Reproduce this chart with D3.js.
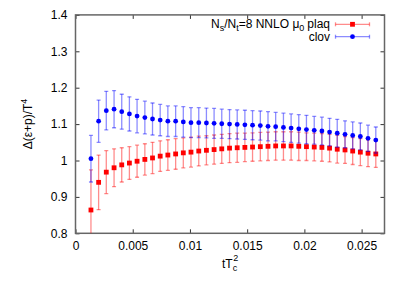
<!DOCTYPE html>
<html>
<head>
<meta charset="utf-8">
<script src="https://cdn.jsdelivr.net/npm/d3@7"></script>
<style>
  body { margin: 0; background: #fff; }
  text { font-family: "Liberation Sans", Arial, sans-serif; font-size: 12px; fill: #000; }
</style>
</head>
<body>
<div id="chart"></div>
<script>
let width = 409,
    height = 286;

// tT_c^2 values (one per flow time)
let tValues = [0.00135, 0.00202, 0.00269, 0.00337, 0.00404, 0.00471, 0.00538, 0.00606,
  0.00673, 0.0074, 0.00807, 0.00875, 0.00942, 0.01009, 0.01077, 0.01144,
  0.01211, 0.01278, 0.01346, 0.01413, 0.0148, 0.01547, 0.01615, 0.01682,
  0.01749, 0.01817, 0.01884, 0.01951, 0.02018, 0.02086, 0.02153, 0.0222,
  0.02287, 0.02355, 0.02422, 0.02489, 0.02556, 0.02624];

let plaqValues = [0.864, 0.940, 0.968, 0.980, 0.988, 0.993, 0.998, 1.003,
  1.007, 1.012, 1.015, 1.018, 1.021, 1.023, 1.026, 1.028,
  1.030, 1.032, 1.034, 1.035, 1.036, 1.037, 1.038, 1.039,
  1.040, 1.040, 1.040, 1.039, 1.038, 1.037, 1.036, 1.034,
  1.031, 1.029, 1.026, 1.023, 1.020, 1.018];
let plaqErrors = [0.110, 0.075, 0.059, 0.052, 0.047, 0.045, 0.044, 0.043,
  0.043, 0.042, 0.042, 0.042, 0.041, 0.041, 0.041, 0.040,
  0.040, 0.040, 0.040, 0.040, 0.039, 0.039, 0.039, 0.039,
  0.039, 0.039, 0.039, 0.039, 0.038, 0.038, 0.038, 0.038,
  0.038, 0.037, 0.037, 0.037, 0.037, 0.037];

let clovValues = [1.005, 1.108, 1.137, 1.141, 1.134, 1.128, 1.122, 1.118,
  1.114, 1.111, 1.108, 1.108, 1.106, 1.104, 1.104, 1.103,
  1.102, 1.101, 1.100, 1.099, 1.098, 1.097, 1.096, 1.094,
  1.093, 1.091, 1.089, 1.087, 1.085, 1.083, 1.081, 1.078,
  1.075, 1.072, 1.069, 1.066, 1.061, 1.056];
let clovErrors = [0.064, 0.058, 0.053, 0.051, 0.048, 0.047, 0.046, 0.045,
  0.044, 0.043, 0.042, 0.042, 0.042, 0.041, 0.041, 0.041,
  0.041, 0.040, 0.040, 0.040, 0.040, 0.040, 0.040, 0.040,
  0.039, 0.039, 0.039, 0.039, 0.039, 0.038, 0.038, 0.038,
  0.038, 0.037, 0.037, 0.037, 0.036, 0.036];

let xTicks = [0, 0.005, 0.01, 0.015, 0.02, 0.025];
let yTicks = [0.8, 0.9, 1.0, 1.1, 1.2, 1.3, 1.4];

let x = d3.scaleLinear().domain([0, 0.027]).range([75.5, 384.5]);
let y = d3.scaleLinear().domain([0.8, 1.4]).range([233.3, 14.9]);

let svg = d3.select("#chart").append("svg")
    .attr("width", width)
    .attr("height", height);

svg.append("clipPath").attr("id", "clip")
  .append("rect")
    .attr("x", x.range()[0]).attr("y", y.range()[1])
    .attr("width", x.range()[1] - x.range()[0])
    .attr("height", y.range()[0] - y.range()[1]);

// axes: ticks inward, mirrored on top / right
let tickLen = 4;
svg.append("g")
    .attr("transform", "translate(0," + y.range()[0] + ")")
    .call(d3.axisBottom(x).tickValues(xTicks).tickSizeInner(-tickLen).tickSizeOuter(0)
      .tickPadding(8).tickFormat(d => d3.format("")(d)))
    .call(g => g.select(".domain").remove());
svg.append("g")
    .attr("transform", "translate(0," + y.range()[1] + ")")
    .call(d3.axisTop(x).tickValues(xTicks).tickSizeInner(-tickLen).tickSizeOuter(0).tickFormat(""))
    .call(g => g.select(".domain").remove());
svg.append("g")
    .attr("transform", "translate(" + x.range()[0] + ",0)")
    .call(d3.axisLeft(y).tickValues(yTicks).tickSizeInner(-tickLen).tickSizeOuter(0)
      .tickPadding(8).tickFormat(d => d3.format("")(+d.toFixed(1))))
    .call(g => g.select(".domain").remove());
svg.append("g")
    .attr("transform", "translate(" + x.range()[1] + ",0)")
    .call(d3.axisRight(y).tickValues(yTicks).tickSizeInner(-tickLen).tickSizeOuter(0).tickFormat(""))
    .call(g => g.select(".domain").remove());

svg.selectAll(".tick line").attr("stroke", "#333");
svg.selectAll(".tick text").style("font-size", "12px").style("font-family", "'Liberation Sans', Arial, sans-serif");

svg.append("rect")
    .attr("x", x.range()[0]).attr("y", y.range()[1])
    .attr("width", x.range()[1] - x.range()[0])
    .attr("height", y.range()[0] - y.range()[1])
    .attr("fill", "none")
    .attr("stroke", "#666")
    .attr("stroke-width", 1.5);

let capW = 2;

function drawSeries(vals, errs, color, shape) {
  let data = tValues.map((t, i) => ({t: t, v: vals[i], e: errs[i]}));
  let g = svg.append("g").attr("clip-path", "url(#clip)");
  let bars = g.append("g")
      .attr("stroke", color)
      .attr("stroke-opacity", 0.45)
      .attr("stroke-width", 1.3);
  bars.selectAll(".eb").data(data).enter().append("line")
      .attr("x1", d => x(d.t)).attr("x2", d => x(d.t))
      .attr("y1", d => y(d.v - d.e)).attr("y2", d => y(d.v + d.e));
  bars.selectAll(".capt").data(data).enter().append("line")
      .attr("x1", d => x(d.t) - capW).attr("x2", d => x(d.t) + capW)
      .attr("y1", d => y(d.v + d.e)).attr("y2", d => y(d.v + d.e));
  bars.selectAll(".capb").data(data).enter().append("line")
      .attr("x1", d => x(d.t) - capW).attr("x2", d => x(d.t) + capW)
      .attr("y1", d => y(d.v - d.e)).attr("y2", d => y(d.v - d.e));
  if (shape == "square") {
    g.selectAll(".pt").data(data).enter().append("rect")
      .attr("x", d => x(d.t) - 2.4).attr("y", d => y(d.v) - 2.4)
      .attr("width", 4.8).attr("height", 4.8)
      .attr("fill", color);
  } else {
    g.selectAll(".pt").data(data).enter().append("circle")
      .attr("cx", d => x(d.t)).attr("cy", d => y(d.v))
      .attr("r", 2.4)
      .attr("fill", color);
  }
}

drawSeries(plaqValues, plaqErrors, "#ff0000", "square");
drawSeries(clovValues, clovErrors, "#0000ff", "circle");

// legend
let legend = [
  {label: "plaq", color: "#ff0000", shape: "square", y: 24.3},
  {label: "clov", color: "#0000ff", shape: "circle", y: 36.7}
];
let lx1 = 335.5, lx2 = 369.5, lxm = 352.5;
legend.forEach(l => {
  let lg = svg.append("g");
  lg.append("line").attr("x1", lx1).attr("x2", lx2).attr("y1", l.y).attr("y2", l.y)
    .attr("stroke", l.color).attr("stroke-opacity", 0.45).attr("stroke-width", 1.3);
  [lx1, lx2].forEach(cx => lg.append("line").attr("x1", cx).attr("x2", cx)
    .attr("y1", l.y - capW).attr("y2", l.y + capW)
    .attr("stroke", l.color).attr("stroke-opacity", 0.45).attr("stroke-width", 1.3));
  if (l.shape == "square") {
    lg.append("rect").attr("x", lxm - 2.4).attr("y", l.y - 2.4).attr("width", 4.8).attr("height", 4.8).attr("fill", l.color);
  } else {
    lg.append("circle").attr("cx", lxm).attr("cy", l.y).attr("r", 2.4).attr("fill", l.color);
  }
});

let t1 = svg.append("text").attr("x", 330).attr("y", 28.3).attr("text-anchor", "end");
t1.append("tspan").text("N");
t1.append("tspan").attr("dy", 3).style("font-size", "9px").text("s");
t1.append("tspan").attr("dy", -3).text("/N");
t1.append("tspan").attr("dy", 3).style("font-size", "9px").text("t");
t1.append("tspan").attr("dy", -3).text("=8 NNLO \u03bc");
t1.append("tspan").attr("dy", 3).style("font-size", "9px").text("0");
t1.append("tspan").attr("dx", 3).attr("dy", -3).text("plaq");

svg.append("text").attr("x", 330).attr("y", 40.7).attr("text-anchor", "end").text("clov");

// axis titles
let yl = svg.append("text")
    .attr("transform", "translate(32,124) rotate(-90)")
    .attr("text-anchor", "middle");
yl.append("tspan").text("\u0394(\u03b5+p)/T");
yl.append("tspan").attr("dy", -5).style("font-size", "9px").text("4");

let xl = svg.append("text").attr("x", 222).attr("y", 267.5);
xl.append("tspan").text("tT");
xl.append("tspan").attr("dy", 3).style("font-size", "9px").text("c");
xl.append("tspan").attr("dx", -4).attr("dy", -10).style("font-size", "9px").text("2");
</script>
</body>
</html>
